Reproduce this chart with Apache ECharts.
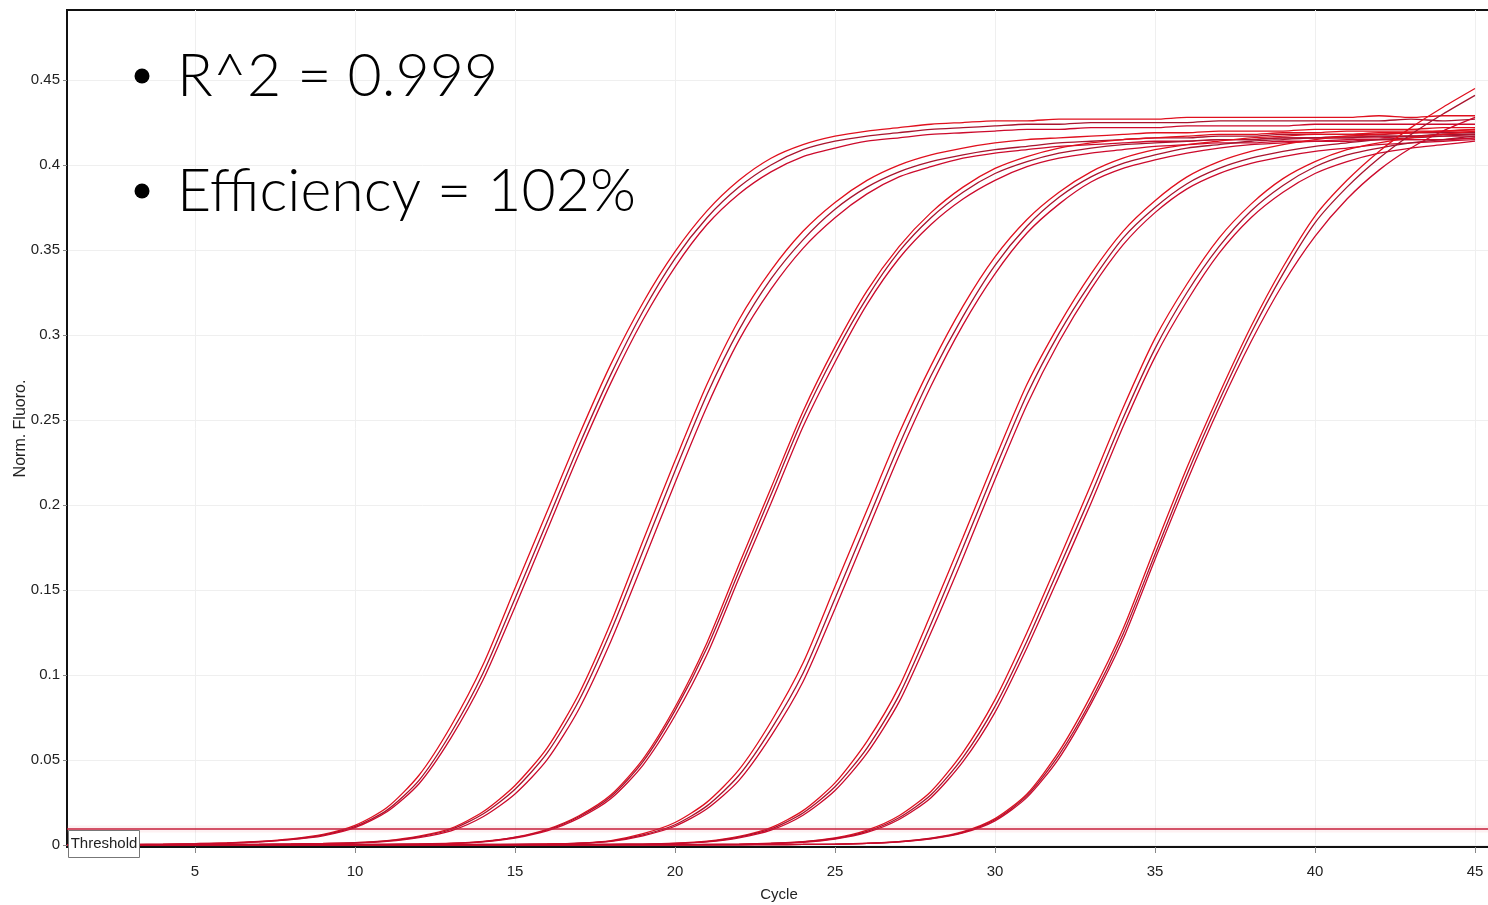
<!DOCTYPE html>
<html>
<head>
<meta charset="utf-8">
<script src="https://cdn.jsdelivr.net/npm/echarts@6/dist/echarts.min.js"></script>
<style>
html,body{margin:0;padding:0;background:#fff;}
#chart{width:1488px;height:905px;}
</style>
</head>
<body>
<div id="chart"></div>
<script>
// ---------- data ----------
const cycles = [1,2,3,4,5,6,7,8,9,10,11,12,13,14,15,16,17,18,19,20,21,22,23,24,25,26,27,28,29,30,31,32,33,34,35,36,37,38,39,40,41,42,43,44,45];
const xTicks = [5,10,15,20,25,30,35,40,45];
const yTicks = [0,0.05,0.1,0.15,0.2,0.25,0.3,0.35,0.4,0.45];
const thresholdValue = 0.0094;
const statText1 = 'R^2 = 0.999';
const statText2 = 'Efficiency = 102%';

const g1a = [0.0000,0.0001,0.0003,0.0005,0.0008, 0.0012,0.0021,0.0036,0.0062,0.0115, 0.022,0.041,0.070,0.106,0.151, 0.196,0.241,0.283,0.319,0.349, 0.373,0.391,0.404,0.412,0.417, 0.420,0.422,0.424,0.425,0.426, 0.426,0.427,0.427,0.427,0.427, 0.428,0.428,0.428,0.428,0.428, 0.428,0.429,0.428,0.429,0.429];
const g1b = [0.0000,0.0001,0.0002,0.0004,0.0007, 0.0011,0.0019,0.0033,0.0058,0.0108, 0.0205,0.038,0.066,0.101,0.145, 0.190,0.235,0.277,0.314,0.345, 0.369,0.387,0.400,0.409,0.414, 0.417,0.419,0.421,0.422,0.423, 0.424,0.424,0.425,0.425,0.425, 0.425,0.426,0.426,0.426,0.426, 0.426,0.426,0.427,0.426,0.427];
const g1c = [0.0000,0.0000,0.0002,0.0004,0.0006, 0.0010,0.0018,0.0031,0.0054,0.0102, 0.0195,0.036,0.063,0.097,0.140, 0.185,0.230,0.272,0.309,0.340, 0.365,0.383,0.396,0.405,0.410, 0.414,0.416,0.418,0.419,0.420, 0.421,0.421,0.422,0.422,0.422, 0.423,0.423,0.423,0.423,0.424, 0.424,0.424,0.424,0.424,0.424];

const g2a = [0.0000,0.0000,0.0001,0.0002,0.0002, 0.0003,0.0004,0.0006,0.0009,0.0014, 0.0026,0.0052,0.0098,0.0195,0.035, 0.057,0.089,0.131,0.179,0.226, 0.271,0.309,0.338,0.361,0.378, 0.391,0.400,0.406,0.410,0.413, 0.415,0.416,0.417,0.418,0.419, 0.419,0.420,0.420,0.420,0.421, 0.421,0.421,0.421,0.422,0.422];
const g2b = [0.0000,0.0000,0.0001,0.0001,0.0002, 0.0003,0.0004,0.0005,0.0008,0.0013, 0.0024,0.0048,0.0091,0.0182,0.0328, 0.054,0.085,0.126,0.173,0.220, 0.265,0.303,0.333,0.356,0.374, 0.387,0.396,0.402,0.406,0.409, 0.411,0.413,0.414,0.415,0.416, 0.416,0.417,0.417,0.418,0.418, 0.418,0.418,0.419,0.419,0.419];
const g2c = [0.0000,0.0000,0.0000,0.0001,0.0001, 0.0002,0.0003,0.0005,0.0007,0.0011, 0.0021,0.0043,0.0083,0.0166,0.030, 0.050,0.080,0.120,0.166,0.213, 0.258,0.297,0.327,0.351,0.369, 0.383,0.393,0.399,0.404,0.407, 0.409,0.411,0.412,0.413,0.414, 0.414,0.415,0.415,0.416,0.416, 0.416,0.416,0.417,0.417,0.417];

const g3a = [0.0000,0.0000,0.0000,0.0001,0.0001, 0.0001,0.0002,0.0002,0.0003,0.0003, 0.0004,0.0006,0.0010,0.0021,0.0046, 0.0092,0.0172,0.0295,0.0505,0.081, 0.119,0.165,0.210,0.255,0.293, 0.326,0.352,0.372,0.387,0.398, 0.405,0.410,0.413,0.415,0.416, 0.417,0.418,0.418,0.419,0.419, 0.420,0.420,0.420,0.420,0.421];
const g3b = [0.0000,0.0000,0.0000,0.0000,0.0001, 0.0001,0.0001,0.0002,0.0002,0.0003, 0.0004,0.0005,0.0009,0.0020,0.0044, 0.0088,0.0166,0.0285,0.049,0.079, 0.116,0.161,0.206,0.251,0.289, 0.322,0.349,0.369,0.384,0.395, 0.402,0.407,0.410,0.412,0.413, 0.414,0.415,0.415,0.416,0.416, 0.417,0.417,0.417,0.418,0.418];
const g3c = [0.0000,0.0000,0.0000,0.0000,0.0000, 0.0001,0.0001,0.0001,0.0002,0.0002, 0.0003,0.0005,0.0008,0.0018,0.0041, 0.0083,0.0158,0.0273,0.047,0.076, 0.112,0.157,0.201,0.246,0.284, 0.318,0.345,0.365,0.380,0.391, 0.399,0.404,0.407,0.409,0.411, 0.412,0.413,0.413,0.414,0.414, 0.415,0.415,0.415,0.415,0.416];

const g4a = [0.0000,0.0000,0.0000,0.0000,0.0000, 0.0001,0.0001,0.0001,0.0001,0.0002, 0.0002,0.0002,0.0003,0.0003,0.0004, 0.0006,0.0011,0.0026,0.0066,0.0132, 0.0252,0.0443,0.0725,0.107,0.152, 0.197,0.242,0.282,0.317,0.346, 0.368,0.384,0.396,0.404,0.409, 0.412,0.414,0.416,0.417,0.418, 0.418,0.419,0.419,0.420,0.420];
const g4b = [0.0000,0.0000,0.0000,0.0000,0.0000, 0.0000,0.0001,0.0001,0.0001,0.0001, 0.0002,0.0002,0.0002,0.0003,0.0004, 0.0005,0.0010,0.0023,0.0059,0.0119, 0.0230,0.041,0.068,0.101,0.145, 0.190,0.235,0.276,0.311,0.341, 0.364,0.381,0.393,0.401,0.406, 0.410,0.412,0.414,0.415,0.416, 0.416,0.417,0.417,0.418,0.418];
const g4c = [0.0000,0.0000,0.0000,0.0000,0.0000, 0.0000,0.0000,0.0001,0.0001,0.0001, 0.0001,0.0002,0.0002,0.0002,0.0003, 0.0005,0.0009,0.0021,0.0054,0.0110, 0.0213,0.038,0.064,0.096,0.139, 0.184,0.229,0.270,0.306,0.336, 0.360,0.377,0.390,0.398,0.403, 0.407,0.410,0.412,0.413,0.414, 0.414,0.415,0.415,0.415,0.416];

const g5a = [0.0000,0.0000,0.0000,0.0000,0.0000, 0.0000,0.0000,0.0001,0.0001,0.0001, 0.0001,0.0001,0.0002,0.0002,0.0002, 0.0003,0.0003,0.0004,0.0005,0.0010, 0.0022,0.0050,0.0102,0.0202,0.0365, 0.061,0.093,0.136,0.181,0.227, 0.271,0.306,0.336,0.361,0.379, 0.393,0.402,0.408,0.412,0.415, 0.417,0.418,0.419,0.420,0.421];
const g5b = [0.0000,0.0000,0.0000,0.0000,0.0000, 0.0000,0.0000,0.0000,0.0001,0.0001, 0.0001,0.0001,0.0001,0.0002,0.0002, 0.0002,0.0003,0.0004,0.0005,0.0009, 0.0020,0.0046,0.0094,0.0188,0.0342, 0.057,0.088,0.130,0.175,0.221, 0.265,0.301,0.331,0.357,0.375, 0.389,0.398,0.404,0.408,0.411, 0.413,0.415,0.416,0.417,0.418];
const g5c = [0.0000,0.0000,0.0000,0.0000,0.0000, 0.0000,0.0000,0.0000,0.0000,0.0001, 0.0001,0.0001,0.0001,0.0001,0.0002, 0.0002,0.0002,0.0003,0.0004,0.0008, 0.0018,0.0042,0.0087,0.0175,0.0320, 0.054,0.084,0.125,0.169,0.215, 0.259,0.296,0.327,0.353,0.372, 0.386,0.395,0.401,0.405,0.408, 0.410,0.412,0.413,0.414,0.415];

const g6a = [0.0000,0.0000,0.0000,0.0000,0.0000, 0.0000,0.0000,0.0000,0.0000,0.0000, 0.0001,0.0001,0.0001,0.0001,0.0001, 0.0001,0.0002,0.0002,0.0002,0.0002, 0.0003,0.0005,0.0010,0.0020,0.0041, 0.0087,0.0172,0.0315,0.0545,0.0855, 0.125,0.168,0.212,0.257,0.298, 0.330,0.357,0.377,0.392,0.402, 0.409,0.413,0.416,0.418,0.420];
const g6b = [0.0000,0.0000,0.0000,0.0000,0.0000, 0.0000,0.0000,0.0000,0.0000,0.0000, 0.0000,0.0001,0.0001,0.0001,0.0001, 0.0001,0.0001,0.0002,0.0002,0.0002, 0.0003,0.0004,0.0009,0.0018,0.0038, 0.0080,0.0160,0.0295,0.0515,0.0815, 0.120,0.163,0.206,0.251,0.292, 0.325,0.352,0.373,0.388,0.399, 0.406,0.410,0.413,0.415,0.417];
const g6c = [0.0000,0.0000,0.0000,0.0000,0.0000, 0.0000,0.0000,0.0000,0.0000,0.0000, 0.0000,0.0000,0.0001,0.0001,0.0001, 0.0001,0.0001,0.0001,0.0002,0.0002, 0.0002,0.0004,0.0008,0.0016,0.0035, 0.0074,0.0150,0.0278,0.0490,0.0780, 0.116,0.158,0.201,0.246,0.287, 0.320,0.348,0.369,0.384,0.395, 0.402,0.407,0.410,0.412,0.414];

const g7a = [0.0000,0.0000,0.0000,0.0000,0.0000, 0.0000,0.0000,0.0000,0.0000,0.0000, 0.0000,0.0000,0.0000,0.0001,0.0001, 0.0001,0.0001,0.0001,0.0001,0.0001, 0.0001,0.0002,0.0002,0.0003,0.0005, 0.0010,0.0020,0.0040,0.0078,0.0155, 0.030,0.055,0.088,0.127,0.175, 0.222,0.265,0.305,0.340,0.370, 0.391,0.408,0.422,0.434,0.445];
const g7b = [0.0000,0.0000,0.0000,0.0000,0.0000, 0.0000,0.0000,0.0000,0.0000,0.0000, 0.0000,0.0000,0.0000,0.0000,0.0001, 0.0001,0.0001,0.0001,0.0001,0.0001, 0.0001,0.0001,0.0002,0.0003,0.0005, 0.0009,0.0019,0.0038,0.0074,0.0148, 0.029,0.053,0.085,0.124,0.171, 0.218,0.261,0.301,0.336,0.366, 0.387,0.404,0.418,0.430,0.441];
const g7c = [0.0000,0.0000,0.0000,0.0000,0.0000, 0.0000,0.0000,0.0000,0.0000,0.0000, 0.0000,0.0000,0.0000,0.0000,0.0000, 0.0001,0.0001,0.0001,0.0001,0.0001, 0.0001,0.0001,0.0002,0.0003,0.0004, 0.0009,0.0018,0.0036,0.0071,0.0142, 0.028,0.051,0.083,0.121,0.168, 0.214,0.257,0.296,0.330,0.358, 0.380,0.397,0.410,0.420,0.428];

const curves = [g1a,g1b,g1c,g2a,g2b,g2c,g3a,g3b,g3c,g4a,g4b,g4c,g5a,g5b,g5c,g6a,g6b,g6c,g7a,g7b,g7c];
const curveColors = ['#e0101e','#a8142e','#cc0a2c'];

// ---------- chart ----------
const chart = echarts.init(document.getElementById('chart'), null, {renderer:'canvas'});

const series = curves.map((vals, i) => ({
  type: 'line',
  data: cycles.map((c, k) => [c, vals[k]]),
  showSymbol: false,
  smooth: 0.25,
  silent: true,
  lineStyle: { color: curveColors[i % 3], width: 1.3 },
  z: 3
}));

// threshold halo + line
series.push({
  type: 'line',
  data: [[cycles[0], thresholdValue], [45.5, thresholdValue]],
  showSymbol: false, silent: true,
  lineStyle: { color: 'rgba(240,120,130,0.10)', width: 7 },
  z: 2
});
series.push({
  type: 'line',
  data: [[cycles[0], thresholdValue], [45.5, thresholdValue]],
  showSymbol: false, silent: true,
  lineStyle: { color: '#c41e3a', width: 1.3 },
  z: 4
});

const axisFont = 'Liberation Sans, Arial, sans-serif';

chart.setOption({
  animation: false,
  backgroundColor: '#ffffff',
  grid: {
    left: 67, top: 10, right: -3, bottom: 58,
    show: true, borderColor: '#111', borderWidth: 2,
    outerBoundsMode: 'none', containLabel: false
  },
  xAxis: {
    type: 'value',
    min: 1, max: 45.5,
    name: 'Cycle',
    nameLocation: 'middle',
    nameGap: 40,
    nameMoveOverlap: false,
    nameTextStyle: { fontFamily: axisFont, fontSize: 15, color: '#222' },
    axisLine: { show: true, onZero: false, lineStyle: { color: '#111', width: 2 } },
    axisTick: { show: true, length: 6, customValues: xTicks, lineStyle: { color: '#888' } },
    axisLabel: { customValues: xTicks, fontFamily: axisFont, fontSize: 15, color: '#222', margin: 17 },
    splitLine: { show: true, lineStyle: { color: '#efefef', width: 1 } }
  },
  yAxis: {
    type: 'value',
    min: -0.0012, max: 0.4912,
    name: 'Norm. Fluoro.',
    nameLocation: 'middle',
    nameGap: 38,
    nameMoveOverlap: false,
    nameTextStyle: { fontFamily: axisFont, fontSize: 16, color: '#222' },
    axisLine: { show: true, onZero: false, lineStyle: { color: '#111', width: 2 } },
    axisTick: { show: true, length: 4, customValues: yTicks, lineStyle: { color: '#888' } },
    axisLabel: { customValues: yTicks, fontFamily: axisFont, fontSize: 15, color: '#222', margin: 7 },
    splitLine: { show: true, lineStyle: { color: '#efefef', width: 1 } }
  },
  series: series,
  graphic: [
    { type: 'circle', z: 100, shape: { cx: 142, cy: 76, r: 7.5 }, style: { fill: '#000' } },
    { type: 'circle', z: 100, shape: { cx: 142, cy: 191, r: 7.5 }, style: { fill: '#000' } },
    { type: 'text', z: 100, style: { text: statText1, x: 177, y: 77, verticalAlign: 'middle',
      font: '300 59px Lato, "Open Sans", sans-serif', fill: '#000' } },
    { type: 'text', z: 100, style: { text: statText2, x: 177, y: 192, verticalAlign: 'middle',
      font: '300 59px Lato, "Open Sans", sans-serif', fill: '#000' } },
    { type: 'rect', z: 100, shape: { x: 68.5, y: 830.5, width: 71, height: 27 },
      style: { fill: '#fff', stroke: '#777', lineWidth: 1 } },
    { type: 'text', z: 101, style: { text: 'Threshold', x: 104, y: 844, align: 'center', verticalAlign: 'middle',
      font: '15px "Liberation Sans", Arial, sans-serif', fill: '#222' } }
  ]
});
</script>
</body>
</html>
